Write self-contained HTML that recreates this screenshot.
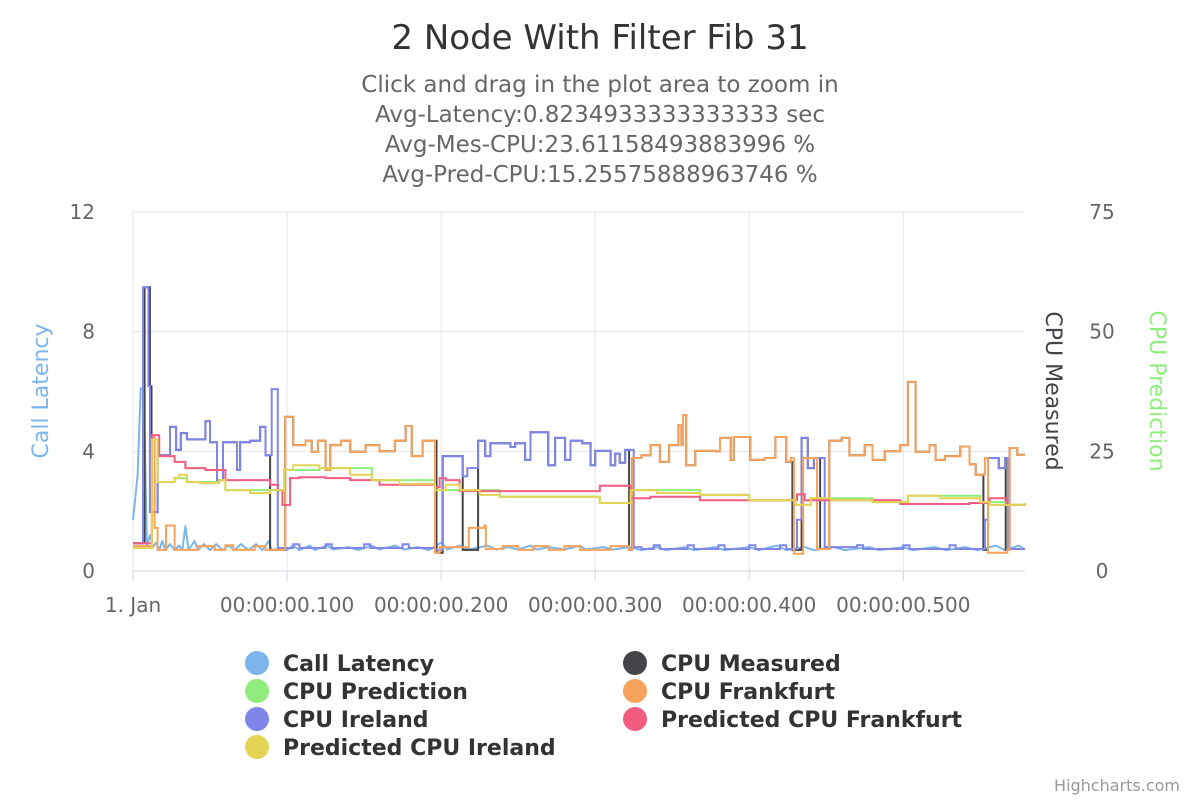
<!DOCTYPE html>
<html><head><meta charset="utf-8"><style>
html,body{margin:0;padding:0;background:#fff;}
svg{display:block;font-family:"DejaVu Sans","Liberation Sans",sans-serif;}
</style></head><body>
<svg id="chart" width="1200" height="800" viewBox="0 0 1200 800">
<text x="600" y="49" text-anchor="middle" font-size="34" fill="#333">2 Node With Filter Fib 31</text>
<g font-size="23" fill="#666" text-anchor="middle">
<text x="600" y="92">Click and drag in the plot area to zoom in</text>
<text x="600" y="122">Avg-Latency:0.8234933333333333 sec</text>
<text x="600" y="152">Avg-Mes-CPU:23.61158493883996 %</text>
<text x="600" y="182">Avg-Pred-CPU:15.25575888963746 %</text>
</g>
<g id="grid"></g>
<g id="axes"></g>
<g id="series"></g>
<text transform="translate(48,391) rotate(-90)" text-anchor="middle" font-size="22" fill="#7cb5ec">Call Latency</text>
<text transform="translate(1046,391) rotate(90)" text-anchor="middle" font-size="22" fill="#434348">CPU Measured</text>
<text transform="translate(1150,391) rotate(90)" text-anchor="middle" font-size="22" fill="#90ed7d">CPU Prediction</text>
<g id="legend" font-size="22" font-weight="bold" fill="#333"></g>
<text x="1180" y="791" text-anchor="end" font-size="16" fill="#999">Highcharts.com</text>
</svg>
<script>
// ---- data ----
const xTicks = [0, 100, 200, 300, 400, 500];
const xTickLabels = ["1. Jan", "00:00:00.100", "00:00:00.200", "00:00:00.300", "00:00:00.400", "00:00:00.500"];
const leftTicks = [0, 4, 8, 12];
const rightTicks = [0, 25, 50, 75];
const latency = [[0,1.7],[3,3.2],[5,6.1],[7,6.1],[9,0.8],[11,1.2],[13,0.8],[15,0.95],[17,0.7],[19,1.0],[21,0.7],[24,0.9],[27,0.7],[30,0.85],[32,0.7],[34,1.5],[36,0.7],[40,1.0],[42,0.7],[46,0.9],[50,0.7],[54,0.9],[58,0.7],[62,0.85],[66,0.7],[70,0.9],[75,0.7],[80,0.9],[84,0.7],[88,1.0],[90,0.7],[96,0.75],[100,0.7],[104,0.85],[108,0.7],[115,0.85],[118,0.7],[126,0.85],[130,0.72],[140,0.8],[146,0.7],[155,0.85],[160,0.72],[170,0.85],[176,0.72],[185,0.8],[192,0.7],[200,0.95],[204,0.72],[212,0.85],[218,0.72],[230,0.85],[236,0.72],[244,0.8],[250,0.72],[258,0.85],[262,0.72],[270,0.8],[280,0.72],[290,0.85],[294,0.72],[305,0.8],[312,0.72],[322,0.8],[330,0.7],[340,0.8],[346,0.7],[358,0.8],[364,0.7],[378,0.8],[384,0.7],[400,0.8],[406,0.7],[418,0.85],[424,0.7],[436,0.8],[442,0.7],[455,0.8],[462,0.7],[478,0.8],[484,0.7],[500,0.8],[506,0.7],[520,0.8],[528,0.7],[540,0.8],[548,0.7],[560,0.85],[566,0.7],[575,0.85],[579,0.72]];
const cpuIreland = [[0,5.8],[5,5.8],[6.5,59.3],[10,38.6],[11,12.3],[16,24.2],[24,30.1],[28,25.3],[31,28.8],[35,27.5],[47,31.3],[50,26.9],[54.5,19],[58.4,26.9],[67.5,21.1],[69.5,26.9],[76,27.2],[82.5,30.1],[86,24.2],[90,38.0],[94,4.8],[100,4.8],[104,5.6],[108,4.8],[125,5.6],[129,4.8],[150,5.6],[154,4.8],[175,5.6],[179,4.8],[196,4.4],[201,24.0],[212,24.0],[214,19.8],[217,21.5],[224,27.2],[228.6,24],[232,26.7],[245,25.9],[248,26.7],[254.5,23.2],[258,29],[264,29],[269.5,22.1],[274,27.8],[280.5,23.2],[284,27.2],[291.6,26.7],[297,22.1],[300,25.1],[310,22.1],[313,24.5],[316,22.6],[319.5,25.3],[325,5.0],[330,4.6],[338,5.4],[342,4.6],[360,5.4],[364,4.6],[380,5.4],[384,4.6],[400,5.4],[404,4.6],[420,5.4],[424,4.6],[431,10.7],[434,27.8],[438,21.5],[442,23.6],[449,5.0],[470,5.4],[474,4.6],[500,5.4],[504,4.6],[530,5.4],[534,4.6],[553,10.7],[555,23.6],[562,21.5],[566,23.6],[568,4.6],[579,4.6]];
const cpuFrankfurt = [[0,5.2],[11,5.2],[12.3,28],[14,9],[16,4.4],[21.4,9.5],[27,4.4],[42,5.2],[53,4.4],[60,5.4],[65,4.4],[79,5.2],[86,4.4],[98,4.4],[98.7,32.2],[104,26.3],[112,27.2],[116,24.9],[120,27.2],[125,21.1],[128,26.3],[135,27.2],[141,24.9],[151,26.3],[160,25.0],[170,27.2],[177,30.3],[181,24.0],[188,27.2],[193,27.2],[196,3.8],[199,5.0],[218,9.0],[228,9.5],[229,4.6],[240,5.2],[250,4.4],[260,5.2],[270,4.4],[280,5.2],[290,4.4],[310,5.2],[322,4.4],[324,23.6],[330,24.2],[336,26.3],[342,22.8],[348,26.3],[354,30.5],[356,26.3],[357,32.6],[359,22.1],[365,25.1],[378,25.0],[381,27.8],[388,23.2],[390,28.0],[397,28.0],[400.6,23.2],[410,23.6],[417,28.0],[420,28.0],[424,22.8],[427,23.6],[429,3.6],[435,23.6],[440,23.6],[444,4.6],[452,27.2],[460,27.8],[465,24.2],[475,26.3],[480,23.2],[488,25],[498,26.3],[503,39.5],[508,24.9],[517,26.3],[521,23.2],[527,24],[537,26.0],[543,22.3],[547,20.1],[553,23.6],[555,3.8],[567.5,4.4],[569,25.7],[574,24.3],[579,24.3]];
const cpuMeasured = [[0,5.8],[6,5.8],[7.5,59.3],[11,38.6],[12,12.3],[16,24.2],[24,30.1],[28,25.3],[31,28.8],[35,27.5],[47,31.3],[50,26.9],[54.5,19],[58.4,26.9],[67.5,21.1],[69.5,26.9],[76,27.2],[82.5,30.1],[86,24.2],[89,4.4],[98.7,32.2],[104,26.3],[112,27.2],[116,24.9],[120,27.2],[125,21.1],[128,26.3],[135,27.2],[141,24.9],[151,26.3],[160,25.0],[170,27.2],[177,30.3],[181,24.0],[188,27.2],[193,27.2],[197,3.8],[201,24.0],[212,24.0],[214,4.4],[224,27.2],[228.6,24],[232,26.7],[245,25.9],[248,26.7],[254.5,23.2],[258,29],[264,29],[269.5,22.1],[274,27.8],[280.5,23.2],[284,27.2],[291.6,26.7],[297,22.1],[300,25.1],[310,22.1],[313,24.5],[316,22.6],[319.5,25.3],[322,4.4],[324,23.6],[330,24.2],[336,26.3],[342,22.8],[348,26.3],[354,30.5],[356,26.3],[357,32.6],[359,22.1],[365,25.1],[378,25.0],[381,27.8],[388,23.2],[390,28.0],[397,28.0],[400.6,23.2],[410,23.6],[417,28.0],[420,28.0],[424,22.8],[428,4.4],[434,27.8],[438,21.5],[442,23.6],[446,4.6],[452,27.2],[460,27.8],[465,24.2],[475,26.3],[480,23.2],[488,25],[498,26.3],[503,39.5],[508,24.9],[517,26.3],[521,23.2],[527,24],[537,26.0],[543,22.3],[547,20.1],[552,4.4],[555,23.6],[562,21.5],[566,23.6],[566.5,4.4],[569,25.7],[574,24.3],[579,24.3]];
const predIreland = [[0,4.8],[11,4.8],[12.3,27.4],[16,18.6],[27,19.4],[30,20.1],[35,18.6],[43,18.4],[56,19.0],[60,16.9],[76,16.3],[89,16.9],[98,21.1],[104,22.1],[121,21.5],[141,20.1],[155,19.0],[173,18.2],[196,16.9],[203,18.0],[212,16.9],[225,15.9],[238,15.5],[303,14.2],[323,16.9],[340,16.3],[368,15.9],[400,14.8],[430,13.8],[440,15.2],[453,14.8],[480,14.4],[503,15.7],[524,15.2],[550,14.4],[556,13.8],[566,13.8],[579,14.2]];
const predFrankfurt = [[0,5.8],[11,5.8],[12.3,28.4],[17,24.0],[27,22.8],[34,21.5],[47,21.1],[60,19.0],[89,18.0],[94,16.9],[97,13.8],[102,19.4],[108,19.6],[125,19.4],[141,19.0],[160,18.0],[196,17.5],[199,19.4],[203,19.0],[212,16.7],[303,17.8],[323,15.2],[336,15.5],[368,14.8],[400,14.8],[431,16.0],[436,14.8],[449,14.8],[498,14.0],[543,14.2],[556,15.2],[567,13.8],[579,13.8]];
const cpuPrediction = [[0,5.0],[11,5.0],[12.3,27.4],[16,18.6],[27,19.4],[35,18.6],[56,19.0],[60,16.9],[89,16.9],[98,21.1],[121,21.5],[155,19.0],[196,16.9],[212,16.9],[238,15.5],[303,14.2],[323,16.9],[368,15.9],[400,14.8],[430,13.8],[440,15.2],[480,14.4],[503,15.7],[550,14.4],[566,13.8],[579,14.2]];

// ---- scales ----
const PX0 = 133, PX1 = 1025, PY0 = 212, PY1 = 571;
const xMax = 579;
function xs(t){ return PX0 + t / xMax * (PX1 - PX0); }
function yl(v){ return PY1 - v / 12 * (PY1 - PY0); }
function yr(v){ return PY1 - v / 75 * (PY1 - PY0); }
const NS = "http://www.w3.org/2000/svg";
function mk(tag, attrs, parent){ const e = document.createElementNS(NS, tag); for (const k in attrs) e.setAttribute(k, attrs[k]); parent.appendChild(e); return e; }

const grid = document.getElementById('grid');
const axes = document.getElementById('axes');
leftTicks.forEach((v, i) => {
  const y = yl(v);
  const l = mk('line', {x1: PX0, x2: PX1, y1: y, y2: y, stroke: i === 0 ? '#ccd6eb' : '#e6e6e6', 'stroke-width': 1}, grid);
  
  
  const t = mk('text', {x: 95, y: y + 7, 'text-anchor': 'end', 'font-size': 20, fill: '#666'}, axes);
  t.textContent = String(v);
  
  
});
rightTicks.forEach(v => {
  const y = yr(v);
  const t = mk('text', {x: 1102, y: y + 7, 'text-anchor': 'middle', 'font-size': 20, fill: '#666'}, axes);
  t.textContent = String(v);
  
  
});
xTicks.forEach((v, i) => {
  const x = xs(v);
  const l = mk('line', {x1: x, x2: x, y1: PY0, y2: PY1, stroke: '#e6e6e6', 'stroke-width': 1}, grid);
  
  
  const tk = mk('line', {x1: x, x2: x, y1: PY1, y2: PY1 + 10, stroke: '#ccd6eb', 'stroke-width': 1}, axes);
  
  
  const t = mk('text', {x: x, y: 612, 'text-anchor': 'middle', 'font-size': 20, fill: '#666'}, axes);
  t.textContent = xTickLabels[i];
  
  
});

const series = document.getElementById('series');
function stepPath(data, ys){
  let d = '';
  data.forEach((p, i) => {
    const x = xs(p[0]).toFixed(1), y = ys(p[1]).toFixed(1);
    if (i === 0) d += 'M' + x + ' ' + y;
    else d += ' H' + x + ' V' + y;
  });
  return d;
}
function linePath(data, ys){
  return data.map((p, i) => (i ? 'L' : 'M') + xs(p[0]).toFixed(1) + ' ' + ys(p[1]).toFixed(1)).join(' ');
}
const p1 = mk('path', {d: linePath(latency, yl), fill: 'none', stroke: '#7cb5ec', 'stroke-width': 2, 'stroke-linejoin': 'round'}, series);


const p2 = mk('path', {d: stepPath(cpuMeasured, yr), fill: 'none', stroke: '#434348', 'stroke-width': 2}, series);


const p3 = mk('path', {d: stepPath(cpuPrediction, yr), fill: 'none', stroke: '#90ed7d', 'stroke-width': 2}, series);


const p4 = mk('path', {d: stepPath(cpuIreland, yr), fill: 'none', stroke: '#8085e9', 'stroke-width': 2}, series);


const p5 = mk('path', {d: stepPath(cpuFrankfurt, yr), fill: 'none', stroke: '#f7a35c', 'stroke-width': 2}, series);


const p6 = mk('path', {d: stepPath(predFrankfurt, yr), fill: 'none', stroke: '#f15c80', 'stroke-width': 2}, series);


const p7 = mk('path', {d: stepPath(predIreland, yr), fill: 'none', stroke: '#e4d354', 'stroke-width': 2}, series);



// legend
const legendNames = ["Call Latency", "CPU Measured", "CPU Prediction", "CPU Frankfurt", "CPU Ireland", "Predicted CPU Frankfurt", "Predicted CPU Ireland"];
const legendColors = ["#7cb5ec", "#434348", "#90ed7d", "#f7a35c", "#8085e9", "#f15c80", "#e4d354"];
const legend = document.getElementById('legend');
legendNames.forEach((n, i) => {
  const col = i % 2, row = Math.floor(i / 2);
  const cx = col ? 635 : 257, cy = 663 + row * 28;
  const g = mk('g', {}, legend);
  
  
  mk('circle', {cx: cx, cy: cy, r: 12, fill: legendColors[i]}, g);
  const t = mk('text', {x: cx + 26, y: cy + 8}, g);
  t.textContent = n;
});
</script>
</body></html>
